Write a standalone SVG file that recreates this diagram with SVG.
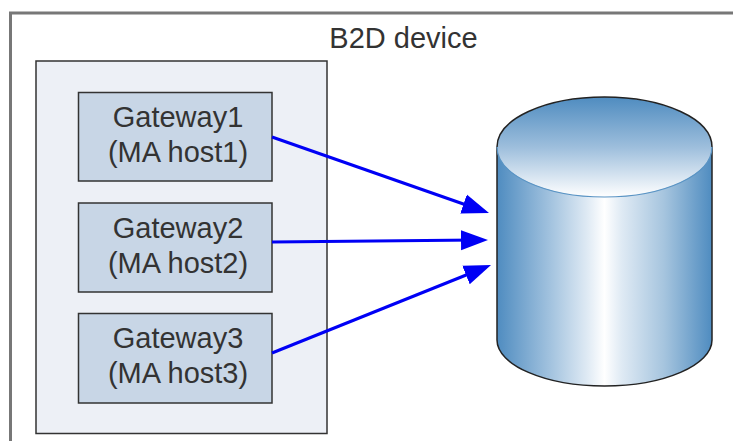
<svg xmlns="http://www.w3.org/2000/svg" width="733" height="441" viewBox="0 0 733 441">
<style>
.t{font-family:"Liberation Sans",Arial,sans-serif;font-size:29px;fill:#333;text-anchor:middle}
.gw{fill:#c8d6e6;stroke:#333;stroke-width:1.5}
.c{stroke:#0000f5;stroke-width:3;fill:none;marker-end:url(#a)}
</style>
<defs>
<marker id="a" markerUnits="userSpaceOnUse" markerWidth="30" markerHeight="24" refX="15" refY="11" orient="auto"><path d="M0 1L27 11L0 21Z" fill="#0000f5"/></marker>
<linearGradient id="side" x1="0" x2="1" y1="0" y2="0">
<stop offset="0" stop-color="#4f8cc0"/><stop offset=".25" stop-color="#a3c3df"/><stop offset=".42" stop-color="#dfeaf4"/><stop offset=".5" stop-color="#fff"/><stop offset=".58" stop-color="#dfeaf4"/><stop offset=".78" stop-color="#a5c4de"/><stop offset="1" stop-color="#4f8cc0"/>
</linearGradient>
<linearGradient id="top" x1="0" x2="0" y1="0" y2="1">
<stop offset="0" stop-color="#4f8cc0"/><stop offset=".5" stop-color="#9dbedc"/><stop offset="1" stop-color="#fff"/>
</linearGradient>
</defs>
<rect width="733" height="441" fill="#fff"/>
<path d="M10.500 441V13H733" fill="none" stroke="#777" stroke-width="3"/>
<text class="t" x="403.500" y="48">B2D device</text>
<g id="panel"><rect x="36" y="61" width="291" height="372.500" fill="#edf0f6" stroke="#333" stroke-width="1.500"/></g>
<g id="gateway1"><rect class="gw" x="78.500" y="92.500" width="193.500" height="88.500"/><text class="t" x="178" y="127">Gateway1</text><text class="t" x="178" y="162">(MA host1)</text></g>
<g id="gateway2"><rect class="gw" x="78.500" y="203" width="193.500" height="89"/><text class="t" x="178" y="238">Gateway2</text><text class="t" x="178" y="273">(MA host2)</text></g>
<g id="gateway3"><rect class="gw" x="78.500" y="313.500" width="193.500" height="89.500"/><text class="t" x="178" y="348">Gateway3</text><text class="t" x="178" y="383">(MA host3)</text></g>
<g id="database">
<path d="M497 147V340C497 365 545 386 604.500 386S712 365 712 340V147Z" fill="url(#side)"/>
<path d="M497 147V340C497 365 545 386 604.500 386S712 365 712 340V147" fill="none" stroke="#222" stroke-width="1.500"/>
<ellipse cx="604.500" cy="147" rx="107.500" ry="50" fill="url(#top)" stroke="none"/>
<path d="M497 147C497 119 545 97 604.500 97S712 119 712 147" fill="none" stroke="#222" stroke-width="1.500"/>
<path d="M497 147C497 175 545 197 604.500 197S712 175 712 147" fill="none" stroke="#5a94c4" stroke-width="1.200"/>
</g>
<g id="connectors">
<path class="c" d="M272 137L477.700 209"/>
<path class="c" d="M272 242L476 240.100"/>
<path class="c" d="M272 353L479.900 269.500"/>
</g>
</svg>
